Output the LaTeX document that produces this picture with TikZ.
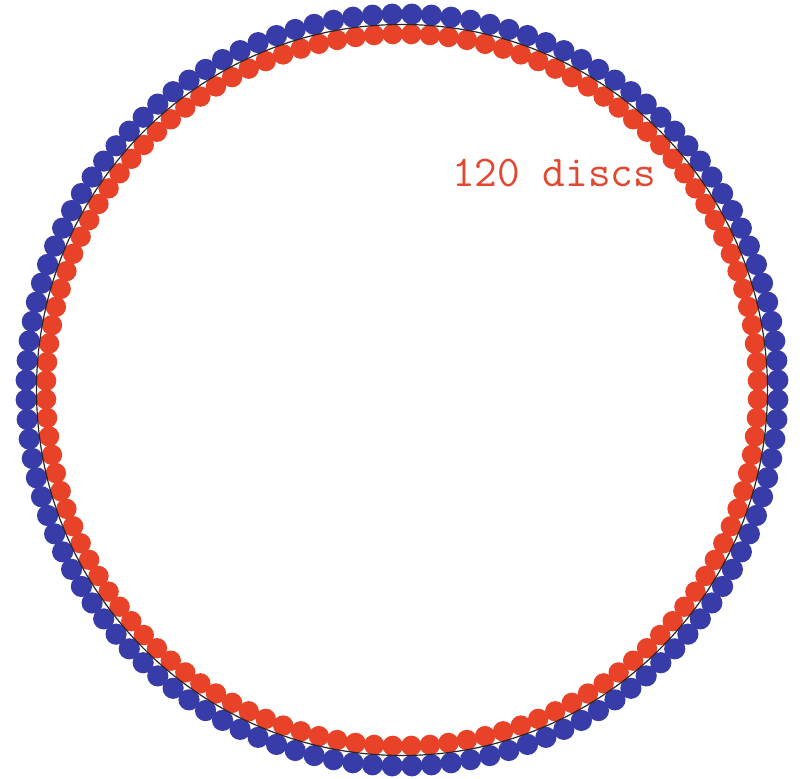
\documentclass[tikz,border=0pt]{standalone}
\usetikzlibrary{calc}
\definecolor{discred}{RGB}{232,66,40}
\definecolor{discblue}{RGB}{56,60,168}
\definecolor{labelred}{RGB}{226,72,48}
\begin{document}
\begin{tikzpicture}[x=1pt,y=1pt,
  bluedisc/.style={fill=discblue},
  reddisc/.style={fill=discred},
  ring/.style={draw=black!85,line width=1.2pt}]
\useasboundingbox (0,0) rectangle (807,779);
\coordinate (c) at (402,389);
\foreach \k in {0,...,119}{
  \fill[bluedisc] ($(c)+({1.5+3*\k}:376)$) circle (10.6);
  \fill[reddisc] ($(c)+({1.5+3*\k}:356)$) circle (10.2);
}
\draw[ring] (c) circle (365.5);
\node[anchor=base west,inner sep=0,text=labelred,font=\fontsize{44}{44}\selectfont\ttfamily] (label) at (452,592) {120 discs};
\end{tikzpicture}
\end{document}
